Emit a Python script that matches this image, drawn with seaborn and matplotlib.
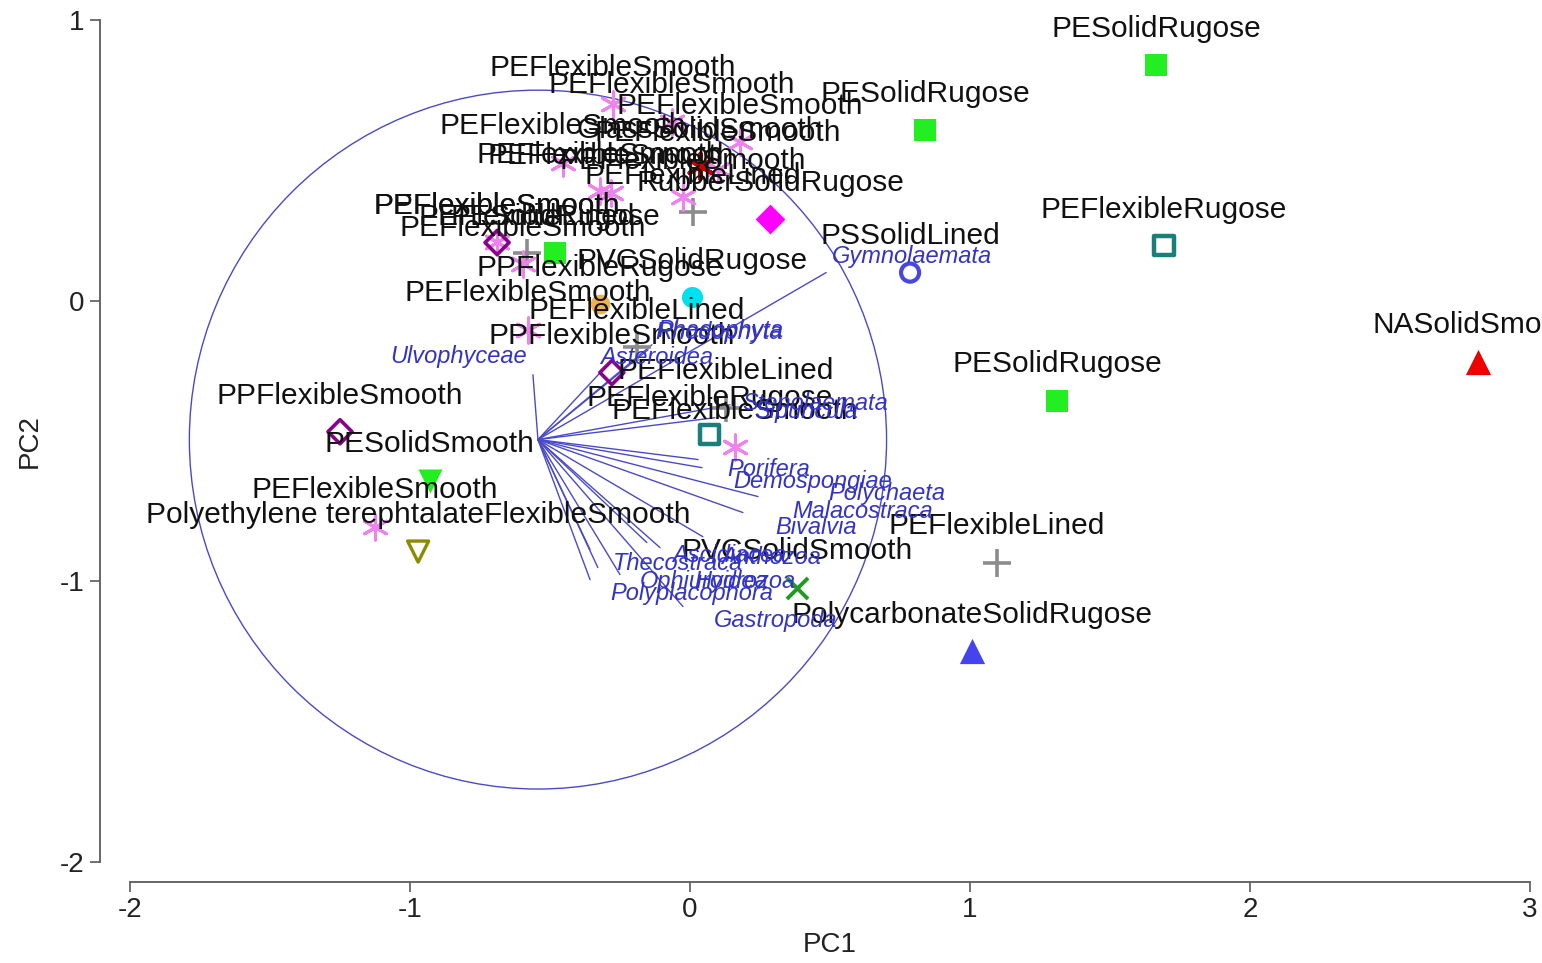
import numpy as np
import pandas as pd
import matplotlib
matplotlib.use("Agg")
import matplotlib.pyplot as plt
import seaborn as sns
from matplotlib.patches import Circle

# ---------------- data ----------------
sample_labels = [
    "PESolidRugose", "PESolidRugose", "PEFlexibleRugose", "PSSolidLined", "NASolidSmooth",
    "PESolidRugose", "PEFlexibleLined", "PolycarbonateSolidRugose", "PVCSolidSmooth",
    "PEFlexibleSmooth", "PEFlexibleRugose", "PEFlexibleLined", "PPFlexibleSmooth",
    "PEFlexibleLined", "PEFlexibleSmooth", "PPFlexibleRugose", "PVCSolidRugose",
    "PPFlexibleSmooth", "PESolidSmooth", "PEFlexibleSmooth",
    "Polyethylene terephtalateFlexibleSmooth",
    "PEFlexibleSmooth", "PPFlexibleSmooth", "PEFlexibleLined", "PESolidRugose",
    "PEFlexibleSmooth", "RubberSolidRugose", "PEFlexibleLined", "PEFlexibleSmooth",
    "PEFlexibleSmooth", "PEFlexibleSmooth", "GlassSolidSmooth", "PEFlexibleSmooth",
    "PEFlexibleSmooth", "PEFlexibleSmooth", "PEFlexibleSmooth", "PEFlexibleSmooth",
]
pc1 = [
    1.664, 0.839, 1.693, 0.786, 2.814,
    1.311, 1.096, 1.007, 0.382,
    0.161, 0.071, 0.129, -0.279,
    -0.189, -0.579, -0.321, 0.007,
    -1.250, -0.929, -1.125,
    -0.971,
    -0.689, -0.689, -0.582, -0.482,
    -0.596, 0.286, 0.011, -0.025,
    -0.321, -0.454, 0.036, 0.179,
    -0.064, -0.275, 0.100, -0.282,
]
pc2 = [
    0.841, 0.609, 0.196, 0.100, -0.217,
    -0.356, -0.933, -1.247, -1.022,
    -0.520, -0.477, -0.381, -0.256,
    -0.164, -0.103, -0.011, 0.014,
    -0.467, -0.641, -0.805,
    -0.894,
    0.210, 0.207, 0.171, 0.171,
    0.132, 0.292, 0.317, 0.370,
    0.392, 0.492, 0.481, 0.566,
    0.638, 0.702, 0.470, 0.385,
]

species = [
    "Gymnolaemata", "Rhodophyta", "Phaeophyta", "Ulvophyceae", "Asteroidea",
    "Stenolaemata", "Sipuncula", "Porifera", "Demospongiae", "Polychaeta",
    "Malacostraca", "Bivalvia", "Ascidiacea", "Anthozoa", "Thecostraca",
    "Ophiuroidea", "Hydrozoa", "Polyplacophora", "Gastropoda",
]
load_x = [0.486, -0.136, -0.150, -0.561, -0.311,
          0.143, 0.089, 0.029, 0.043, 0.243,
          0.189, 0.046, -0.154, -0.107, -0.357,
          -0.329, -0.250, -0.357, -0.025]
load_y = [0.100, -0.157, -0.175, -0.264, -0.246,
          -0.371, -0.417, -0.566, -0.595, -0.698,
          -0.755, -0.841, -0.862, -0.880, -0.887,
          -0.951, -0.976, -0.994, -1.090]
species_text_x = [0.507, -0.125, -0.118, -1.071, -0.321,
                  0.186, 0.229, 0.132, 0.154, 0.493,
                  0.364, 0.304, -0.064, 0.111, -0.275,
                  -0.179, 0.014, -0.286, 0.086]
species_text_y = [0.157, -0.114, -0.107, -0.200, -0.203,
                  -0.367, -0.395, -0.602, -0.645, -0.688,
                  -0.752, -0.809, -0.908, -0.916, -0.937,
                  -1.001, -1.001, -1.044, -1.140]

vector_origin = (-0.543, -0.495)
circle_radius = 1.245

x_ticks = [-2, -1, 0, 1, 2, 3]
y_ticks = [-2, -1, 0, 1]

# ---------------- styles ----------------
styles = {
    "PEFlexibleSmooth": dict(marker=(6, 2, 0), color="#ee82ee", s=330, lw=2.2, fill=True),
    "PPFlexibleSmooth": dict(marker="D", color="#8b008b", s=150, lw=2.6, fill=False),
    "PEFlexibleLined": dict(marker="+", color="#8c8c8c", s=420, lw=2.6, fill=True),
    "PESolidRugose": dict(marker="s", color="#22ee22", s=230, lw=0, fill=True),
    "PEFlexibleRugose": dict(marker="s", color="#1a7f7a", s=190, lw=3.2, fill=False),
    "PESolidSmooth": dict(marker="v", color="#22ee22", s=300, lw=0, fill=True),
    "Polyethylene terephtalateFlexibleSmooth": dict(marker="v", color="#8b8b00", s=230, lw=2.4, fill=False),
    "PVCSolidRugose": dict(marker="o", color="#00e0ee", s=230, lw=0, fill=True),
    "PPFlexibleRugose": dict(marker="o", color="#f0b050", s=200, lw=0, fill=True),
    "PVCSolidSmooth": dict(marker="x", color="#229922", s=230, lw=2.8, fill=True),
    "PolycarbonateSolidRugose": dict(marker="^", color="#4444ee", s=330, lw=0, fill=True),
    "NASolidSmooth": dict(marker="^", color="#ee0000", s=330, lw=0, fill=True),
    "PSSolidLined": dict(marker="o", color="#4848e0", s=170, lw=3.0, fill=False),
    "RubberSolidRugose": dict(marker="D", color="#ff00ff", s=230, lw=0, fill=True),
    "GlassSolidSmooth": dict(marker=(6, 2, 0), color="#cc0000", s=330, lw=3.0, fill=True),
}
vec_color = "#4a4ac8"
spec_color = "#3434c4"

sns.set_theme(style="white")
plt.rcParams["font.family"] = ["Liberation Sans", "DejaVu Sans"]
plt.rcParams["axes.unicode_minus"] = False

fig = plt.figure(figsize=(15.42, 9.63), dpi=100)
ax = fig.add_axes([130 / 1542, (963 - 862) / 963, 1400 / 1542, 842 / 963])
ax.set_xlim(-2, 3)
ax.set_ylim(-2, 1)

# circle and vectors
ax.add_patch(Circle(vector_origin, circle_radius, fill=False, ec=vec_color, lw=1.0, zorder=1))
for sx, sy in zip(load_x, load_y):
    ax.plot([vector_origin[0], sx], [vector_origin[1], sy], color=vec_color, lw=1.0, zorder=1)

# points
df = pd.DataFrame({"label": sample_labels, "PC1": pc1, "PC2": pc2})
for cat, sub in df.groupby("label", sort=False):
    st = styles[cat]
    kw = dict(marker=st["marker"], s=st["s"], linewidth=st["lw"], ax=ax, legend=False, zorder=3)
    if st["fill"]:
        kw.update(color=st["color"], edgecolor=st["color"])
    else:
        kw.update(facecolor="none", edgecolor=st["color"])
    sns.scatterplot(data=sub, x="PC1", y="PC2", **kw)

# sample labels
for lab, x, y in zip(sample_labels, pc1, pc2):
    ax.annotate(lab, (x, y), xytext=(0, 26), textcoords="offset points",
                ha="center", va="center", fontsize=21.5, color="#111111",
                zorder=5, annotation_clip=False)

# species labels
for sp, tx, ty in zip(species, species_text_x, species_text_y):
    ax.text(tx, ty, sp, ha="left", va="center", fontsize=17, style="italic",
            color=spec_color, zorder=6)

# axes styling
for side in ["top", "right"]:
    ax.spines[side].set_visible(False)
ax.spines["left"].set_position(("outward", 21.6))
ax.spines["bottom"].set_position(("outward", 14.4))
ax.spines["left"].set_bounds(-2, 1)
ax.spines["bottom"].set_bounds(-2, 3)
for side in ["left", "bottom"]:
    ax.spines[side].set_color("#5a5a5a")
    ax.spines[side].set_linewidth(1.3)
ax.set_xticks(x_ticks)
ax.set_yticks(y_ticks)
ax.tick_params(axis="both", direction="out", length=7, width=1.2, color="#5a5a5a",
               labelsize=20, labelcolor="#222222", pad=4, left=True, bottom=True)
ax.set_xlabel("PC1", fontsize=20, color="#222222")
ax.set_ylabel("PC2", fontsize=20, color="#222222")
ax.xaxis.set_label_coords(0.5, (18 - 101) / 842)
ax.xaxis.label.set_va("center")
ax.yaxis.set_label_coords((30 - 130) / 1400, 0.5)
ax.yaxis.label.set_va("center")
ax.grid(False)

fig.savefig("out.png", dpi=100, facecolor="white")
